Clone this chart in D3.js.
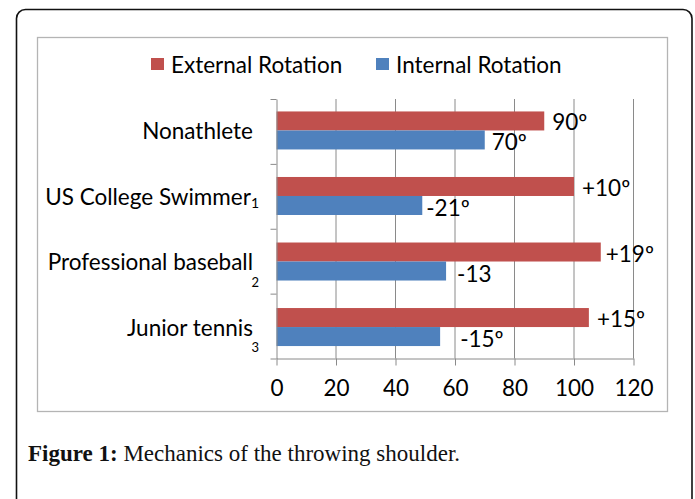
<!DOCTYPE html>
<html>
<head>
<meta charset="utf-8">
<script src="https://cdn.jsdelivr.net/npm/d3@7"></script>
<style>
  body { margin: 0; background: #fff; }
  svg { display: block; }
</style>
</head>
<body>
<script>
// values (bar length, degrees)
var categories = ["Nonathlete", "US College Swimmer", "Professional baseball", "Junior tennis"];
var subscripts = ["", "1", "2", "3"];
var externalRot = [90, 100, 109, 105];
var internalRot = [70, 49, 57, 55];
var externalLabels = ["90º", "+10º", "+19º", "+15º"];
var internalLabels = ["70º", "-21º", "-13", "-15º"];
var xTicks = [0, 20, 40, 60, 80, 100, 120];

var width = 695, height = 499;
var font = "Lato, 'Open Sans', sans-serif";
var fs = 22.5;
var red = "#c0504d", blue = "#4f81bd";

var svg = d3.select("body").append("svg")
    .attr("width", width)
    .attr("height", height);

// outer figure frame (runs off the bottom)
svg.append("rect")
    .attr("x", 16.5).attr("y", 9.5)
    .attr("width", 675.5).attr("height", 540)
    .attr("rx", 9)
    .attr("fill", "none")
    .attr("stroke", "#111")
    .attr("stroke-width", 1.6);

// chart box
svg.append("rect")
    .attr("x", 37.5).attr("y", 37.5)
    .attr("width", 630).attr("height", 374)
    .attr("fill", "#fff")
    .attr("stroke", "#b4b4b4")
    .attr("stroke-width", 1.3);

var plot = {left: 276.5, right: 633.5, top: 99, bottom: 358.5};

var x = d3.scaleLinear().domain([0, 120]).range([plot.left, plot.right]);
var y = d3.scaleBand().domain(categories).range([plot.top, plot.bottom])
    .paddingInner(0.42).paddingOuter(0.19);
var ySub = d3.scaleBand().domain(["ext", "int"]).range([0, y.bandwidth()]);

// vertical grid
svg.append("g").selectAll("line")
    .data(xTicks.slice(1))
    .join("line")
    .attr("x1", d => x(d)).attr("x2", d => x(d))
    .attr("y1", plot.top).attr("y2", plot.bottom)
    .attr("stroke", "#8a8a8a")
    .attr("stroke-width", 1);

// bars
var rows = svg.append("g").selectAll("g")
    .data(categories)
    .join("g")
    .attr("transform", d => "translate(0," + y(d) + ")");

rows.append("rect")
    .attr("x", x(0))
    .attr("y", ySub("ext"))
    .attr("width", (d, i) => x(externalRot[i]) - x(0))
    .attr("height", ySub.bandwidth())
    .attr("fill", red);

rows.append("rect")
    .attr("x", x(0))
    .attr("y", ySub("int"))
    .attr("width", (d, i) => x(internalRot[i]) - x(0))
    .attr("height", ySub.bandwidth())
    .attr("fill", blue);

// labels were nudged by hand in the original
var extGap = [8, 8, 5, 8];
var intGap = [7, 4, 11, 20];

rows.append("text")
    .attr("x", (d, i) => x(externalRot[i]) + extGap[i])
    .attr("y", ySub("ext") + ySub.bandwidth() / 2 + 1)
    .attr("dominant-baseline", "central")
    .attr("font-family", font).attr("font-size", fs)
    .attr("fill", "#000")
    .text((d, i) => externalLabels[i]);

rows.append("text")
    .attr("x", (d, i) => x(internalRot[i]) + intGap[i])
    .attr("y", ySub("int") + ySub.bandwidth() / 2 + 2)
    .attr("dominant-baseline", "central")
    .attr("font-family", font).attr("font-size", fs)
    .attr("fill", "#000")
    .text((d, i) => internalLabels[i]);

// y axis: line with ticks between the categories
var yEdges = d3.scaleLinear().domain([0, categories.length]).range([plot.top, plot.bottom]);
var yAxis = svg.append("g")
    .attr("transform", "translate(" + plot.left + ",0)")
    .call(d3.axisLeft(yEdges).ticks(categories.length).tickFormat("").tickSize(6).tickSizeOuter(0));
yAxis.select(".domain").attr("stroke", "#8a8a8a");
yAxis.selectAll(".tick line").attr("stroke", "#8a8a8a");

// x axis
var xAxis = svg.append("g")
    .attr("transform", "translate(0," + plot.bottom + ")")
    .call(d3.axisBottom(x).tickValues(xTicks).tickSize(7).tickSizeOuter(0));
xAxis.select(".domain").attr("stroke", "#8a8a8a");
xAxis.selectAll(".tick line").attr("stroke", "#8a8a8a");
xAxis.selectAll(".tick text")
    .attr("y", 30).attr("dy", "0.35em")
    .attr("font-family", font).attr("font-size", fs)
    .attr("fill", "#000");

// category labels
var cats = svg.append("g").selectAll("text")
    .data(categories)
    .join("text")
    .attr("font-family", font).attr("font-size", fs)
    .attr("fill", "#000")
    .attr("text-anchor", "end")
    .attr("dominant-baseline", "central");

cats.each(function(d, i) {
    var t = d3.select(this);
    var cy = y(d) + y.bandwidth() / 2;
    if (i === 1) {
        // subscript fits on the same line
        t.attr("x", 259).attr("y", cy);
        t.append("tspan").text(d);
        t.append("tspan").attr("font-size", 14).attr("dy", 6).text(subscripts[i]);
    } else {
        t.attr("x", 253).attr("y", cy).text(d);
        if (subscripts[i]) {
            svg.append("text")
                .attr("x", 259).attr("y", cy + 20)
                .attr("text-anchor", "end")
                .attr("dominant-baseline", "central")
                .attr("font-family", font).attr("font-size", 13)
                .text(subscripts[i]);
        }
    }
});

// legend
var legend = svg.append("g");
var legendItems = [
    {name: "External Rotation", color: red, x: 151},
    {name: "Internal Rotation", color: blue, x: 376}
];
legend.selectAll("rect")
    .data(legendItems)
    .join("rect")
    .attr("x", d => d.x).attr("y", 58)
    .attr("width", 13).attr("height", 12)
    .attr("fill", d => d.color);
legend.selectAll("text")
    .data(legendItems)
    .join("text")
    .attr("x", d => d.x + 20).attr("y", 64)
    .attr("dominant-baseline", "central")
    .attr("font-family", font).attr("font-size", fs)
    .attr("fill", "#000")
    .text(d => d.name);

// caption
var cap = svg.append("text")
    .attr("x", 28).attr("y", 461)
    .attr("font-family", "'Liberation Serif', 'DejaVu Serif', serif")
    .attr("font-size", 23)
    .attr("fill", "#111");
cap.append("tspan").attr("font-weight", "bold").text("Figure 1:");
cap.append("tspan").text(" Mechanics of the throwing shoulder.");
</script>
</body>
</html>
